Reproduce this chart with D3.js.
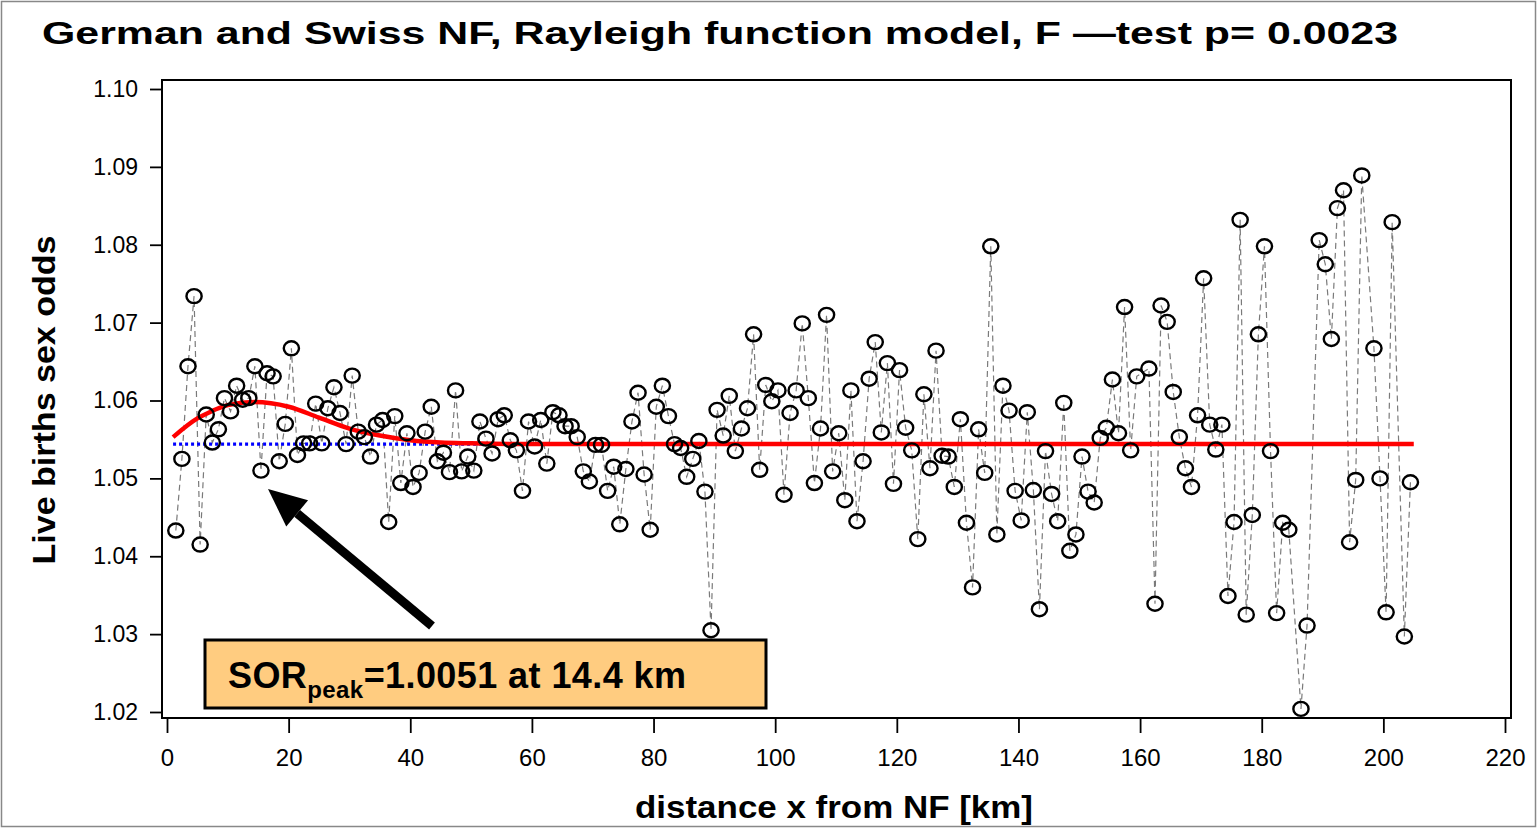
<!DOCTYPE html>
<html>
<head>
<meta charset="utf-8">
<script src="https://cdn.jsdelivr.net/npm/d3@7"></script>
<style>
  body { margin: 0; background: #fff; }
  svg { display: block; font-family: "Liberation Sans", Arial, Helvetica, sans-serif; }
</style>
</head>
<body>
<div id="chart"></div>
<script>
// observed live births sex odds, 1-km bins starting at 1 km (null = no point in that bin)
const firstKm = 1.45;
const sexOdds = [
  1.0433, 1.0525, 1.0644, 1.0734, 1.0415, 1.0582, 1.0546, 1.0563, 1.0603, 1.0586,
  1.0619, 1.0601, 1.0603, 1.0644, 1.0510, 1.0635, 1.0631, 1.0522, 1.0570, 1.0667,
  1.0530, 1.0545, 1.0545, 1.0596, 1.0545, 1.0590, 1.0617, 1.0584, 1.0544, 1.0632,
  1.0560, 1.0553, 1.0528, 1.0569, 1.0575, 1.0444, 1.0580, 1.0494, 1.0558, 1.0489,
  1.0507, 1.0560, 1.0592, 1.0522, 1.0533, 1.0508, 1.0613, 1.0509, 1.0528, 1.0510,
  1.0573, 1.0551, 1.0532, 1.0576, 1.0581, 1.0549, 1.0536, 1.0484, 1.0573, 1.0541,
  1.0575, 1.0519, 1.0585, 1.0581, 1.0567, 1.0567, 1.0553, 1.0509, 1.0496, 1.0543,
  1.0543, 1.0484, 1.0515, 1.0441, 1.0512, 1.0573, 1.0610, 1.0505, 1.0434, 1.0592,
  1.0619, 1.0580, 1.0544, 1.0539, 1.0502, 1.0525, 1.0548, 1.0483, 1.0305, 1.0588,
  1.0555, 1.0606, 1.0535, 1.0564, 1.0590, 1.0685, 1.0511, 1.0620, 1.0599, 1.0613,
  1.0479, 1.0584, 1.0613, 1.0699, 1.0603, 1.0494, 1.0564, 1.0710, 1.0509, 1.0558,
  1.0472, 1.0613, 1.0445, 1.0522, 1.0628, 1.0675, 1.0559, 1.0648, 1.0493, 1.0639,
  1.0565, 1.0536, 1.0422, 1.0608, 1.0513, 1.0664, 1.0529, 1.0528, 1.0489, 1.0576,
  1.0443, 1.0360, 1.0563, 1.0507, 1.0798, 1.0428, 1.0619, 1.0587, 1.0484, 1.0446,
  1.0585, 1.0485, 1.0332, 1.0535, 1.0480, 1.0445, 1.0597, 1.0407, 1.0428, 1.0528,
  1.0483, 1.0469, 1.0552, 1.0565, 1.0627, 1.0558, 1.0720, 1.0536, 1.0631, null,
  1.0641, 1.0339, 1.0722, 1.0701, 1.0611, 1.0553, 1.0513, 1.0489, 1.0581, 1.0757,
  1.0569, 1.0537, 1.0569, 1.0349, 1.0444, 1.0832, 1.0325, 1.0453, 1.0685, 1.0798,
  1.0535, 1.0327, 1.0443, 1.0434, null,   1.0204, 1.0311, null,   1.0806, 1.0775,
  1.0679, 1.0847, 1.0870, 1.0418, 1.0498, 1.0889, null,   1.0667, 1.0500, 1.0328,
  1.0829, null,   1.0297, 1.0495
];

// Rayleigh model curve (red)
const modelKm  = [1, 5, 7, 10, 14.4, 20, 25, 30, 35, 40, 45, 50, 60, 205];
const modelSor = [1.0553, 1.0577, 1.0585, 1.0594, 1.0598, 1.0592, 1.0578, 1.0564, 1.0555, 1.0549, 1.0546, 1.0545, 1.0544, 1.0544];

// null model baseline (blue dotted)
const baseKm  = [1, 205];
const baseSor = [1.0544, 1.0544];

const xTicks = [0, 20, 40, 60, 80, 100, 120, 140, 160, 180, 200, 220];
const yTicks = [1.02, 1.03, 1.04, 1.05, 1.06, 1.07, 1.08, 1.09, 1.10];

const W = 1537, H = 828;
const frame = { left: 162, right: 1511, top: 80, bottom: 718 };

const svg = d3.select("#chart")
  .append("svg")
  .attr("width", W)
  .attr("height", H);

// outer border of the figure
svg.append("rect")
  .attr("x", 1.5).attr("y", 1.5)
  .attr("width", W - 3).attr("height", H - 3)
  .attr("fill", "none")
  .attr("stroke", "#888")
  .attr("stroke-width", 1.5);

const xScale = d3.scaleLinear().domain([0, 220]).range([167, 1505]);
const yScale = d3.scaleLinear().domain([1.02, 1.10]).range([712, 89]);

// title
svg.append("text")
  .attr("x", 42).attr("y", 44)
  .attr("font-size", 32)
  .attr("font-weight", "bold")
  .attr("textLength", 1356)
  .attr("lengthAdjust", "spacingAndGlyphs")
  .text("German and Swiss NF, Rayleigh function model, F \u2014test p= 0.0023");

// Y axis
const yAxis = svg.append("g")
  .attr("transform", `translate(${frame.left},0)`)
  .call(d3.axisLeft(yScale).tickValues(yTicks).tickFormat(d3.format(".2f")).tickSize(12).tickPadding(12).tickSizeOuter(0));
yAxis.select(".domain").remove();
yAxis.selectAll("line").attr("stroke", "#000").attr("stroke-width", 1.8);
yAxis.selectAll("text").attr("font-size", 23).attr("font-family", "Liberation Sans, Arial, sans-serif").attr("fill", "#000");

// X axis
const xAxis = svg.append("g")
  .attr("transform", `translate(0,${frame.bottom})`)
  .call(d3.axisBottom(xScale).tickValues(xTicks).tickSize(15).tickPadding(16).tickSizeOuter(0));
xAxis.select(".domain").remove();
xAxis.selectAll("line").attr("stroke", "#000").attr("stroke-width", 1.8);
xAxis.selectAll("text").attr("font-size", 24).attr("font-family", "Liberation Sans, Arial, sans-serif").attr("fill", "#000");

// plot frame
svg.append("rect")
  .attr("x", frame.left).attr("y", frame.top)
  .attr("width", frame.right - frame.left)
  .attr("height", frame.bottom - frame.top)
  .attr("fill", "none")
  .attr("stroke", "#000")
  .attr("stroke-width", 2);

// axis titles
svg.append("text")
  .attr("x", 834).attr("y", 818)
  .attr("text-anchor", "middle")
  .attr("font-size", 32)
  .attr("font-weight", "bold")
  .attr("textLength", 398)
  .attr("lengthAdjust", "spacingAndGlyphs")
  .text("distance x from NF [km]");

svg.append("text")
  .attr("transform", "translate(55,400) rotate(-90)")
  .attr("text-anchor", "middle")
  .attr("font-size", 32)
  .attr("font-weight", "bold")
  .attr("textLength", 329)
  .attr("lengthAdjust", "spacingAndGlyphs")
  .text("Live births sex odds");

// observed points
const points = sexOdds
  .map((v, i) => ({ km: firstKm + i, v: v }))
  .filter((d) => d.v !== null);

const line = d3.line()
  .x((d) => xScale(d.km))
  .y((d) => yScale(d.v));

svg.append("path")
  .datum(points)
  .attr("d", line)
  .attr("fill", "none")
  .attr("stroke", "#7a7a7a")
  .attr("stroke-width", 1.2)
  .attr("stroke-dasharray", "6,4");

// baseline (blue dotted)
svg.append("path")
  .datum(baseKm.map((k, i) => [k, baseSor[i]]))
  .attr("d", d3.line().x((d) => xScale(d[0])).y((d) => yScale(d[1])))
  .attr("fill", "none")
  .attr("stroke", "#0000ff")
  .attr("stroke-width", 3.2)
  .attr("stroke-dasharray", "3,3");

// Rayleigh model (red)
svg.append("path")
  .datum(modelKm.map((k, i) => [k, modelSor[i]]))
  .attr("d", d3.line().curve(d3.curveMonotoneX).x((d) => xScale(d[0])).y((d) => yScale(d[1])))
  .attr("fill", "none")
  .attr("stroke", "#ff0000")
  .attr("stroke-width", 4.5);

svg.selectAll("ellipse.pt")
  .data(points)
  .join("ellipse")
  .attr("class", "pt")
  .attr("cx", (d) => xScale(d.km))
  .attr("cy", (d) => yScale(d.v))
  .attr("rx", 7.6)
  .attr("ry", 7)
  .attr("fill", "none")
  .attr("stroke", "#000")
  .attr("stroke-width", 2.4);

// annotation arrow
const tail = [432, 626], tip = [268, 489];
const dx = tip[0] - tail[0], dy = tip[1] - tail[1];
const len = Math.hypot(dx, dy);
const ux = dx / len, uy = dy / len;
const headLen = 38, headHalf = 17;
const base = [tip[0] - ux * headLen, tip[1] - uy * headLen];

svg.append("line")
  .attr("x1", tail[0]).attr("y1", tail[1])
  .attr("x2", base[0]).attr("y2", base[1])
  .attr("stroke", "#000")
  .attr("stroke-width", 9);

svg.append("polygon")
  .attr("points", [
    tip,
    [base[0] - uy * headHalf, base[1] + ux * headHalf],
    [base[0] + uy * headHalf, base[1] - ux * headHalf]
  ].map((p) => p.join(",")).join(" "))
  .attr("fill", "#000");

// annotation box
svg.append("rect")
  .attr("x", 205).attr("y", 640)
  .attr("width", 561).attr("height", 68)
  .attr("fill", "#ffcc80")
  .attr("stroke", "#000")
  .attr("stroke-width", 3);

const label = svg.append("text")
  .attr("x", 228).attr("y", 688)
  .attr("font-size", 36)
  .attr("font-weight", "bold")
  .attr("textLength", 458)
  .attr("lengthAdjust", "spacing");
label.append("tspan").text("SOR");
label.append("tspan").attr("font-size", 24).attr("dy", 10).text("peak");
label.append("tspan").attr("dy", -10).text("=1.0051 at 14.4 km");
</script>
</body>
</html>
